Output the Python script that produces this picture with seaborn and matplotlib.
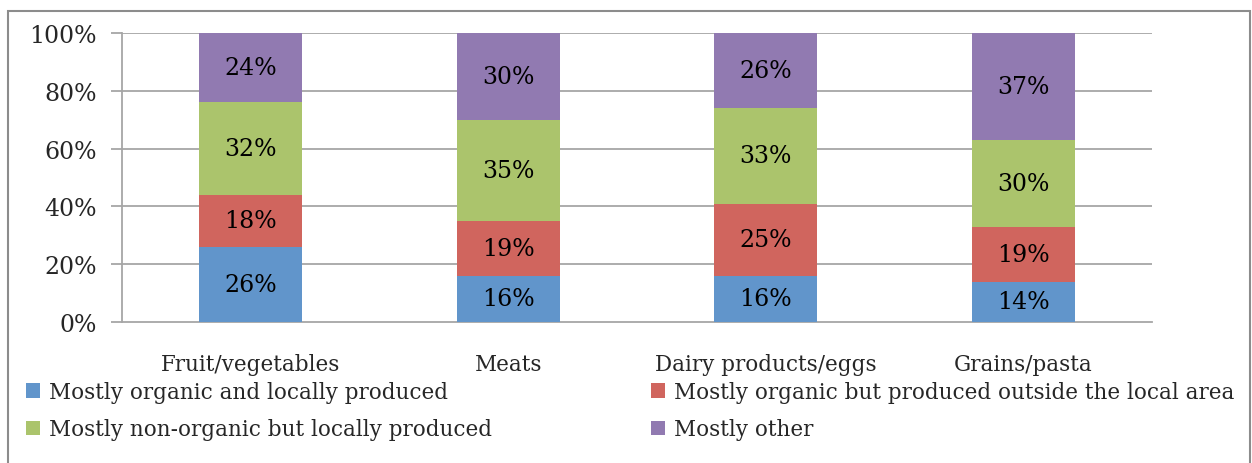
import matplotlib
matplotlib.use("Agg")
import matplotlib.pyplot as plt
from matplotlib.patches import Rectangle
import seaborn as sns
import numpy as np
import pandas as pd

categories = ["Fruit/vegetables", "Meats", "Dairy products/eggs", "Grains/pasta"]
series = [
    "Mostly organic and locally produced",
    "Mostly organic but produced outside the local area",
    "Mostly non-organic but locally produced",
    "Mostly other",
]
organic_local = [26, 16, 16, 14]
organic_outside = [18, 19, 25, 19]
nonorganic_local = [32, 35, 33, 30]
other = [24, 30, 26, 37]
colors = ["#6195CB", "#D0655E", "#ABC46C", "#917AB1"]
yticks = [0, 20, 40, 60, 80, 100]

sns.set_style("white")
plt.rcParams["font.family"] = ["DejaVu Serif"]

values = np.array([organic_local, organic_outside, nonorganic_local, other], dtype=float)
tops = values.cumsum(axis=0)
bottoms = tops - values

fig = plt.figure(figsize=(12.52, 4.64), dpi=100)
ax = fig.add_axes([122 / 1252, 1 - 323 / 464, (1152 - 122) / 1252, (323 - 34) / 464])

# Stacked bars: draw cumulative totals from the top series down
for i in range(len(series) - 1, -1, -1):
    df = pd.DataFrame({"category": categories, "top": tops[i]})
    sns.barplot(data=df, x="category", y="top", color=colors[i], width=0.4,
                saturation=1, ax=ax, zorder=3, linewidth=0, order=categories)

for i in range(len(series)):
    for j in range(len(categories)):
        ax.text(j, bottoms[i, j] + values[i, j] / 2, f"{int(values[i, j])}%",
                ha="center", va="center", fontsize=17, color="black", zorder=4)

grid_c = "#a6a6a6"
ax.set_ylim(0, 100)
ax.set_xlim(-0.5, len(categories) - 0.5)
ax.set_yticks(yticks)
ax.set_yticklabels([f"{t}%" for t in yticks], fontsize=17)
for t in yticks[1:]:
    ax.axhline(t, color=grid_c, lw=1.3, zorder=1)

ax.set_xticks(range(len(categories)))
ax.set_xticklabels(categories, fontsize=15.5)
ax.set_xticks(np.arange(-0.5, len(categories)), minor=True)
ax.tick_params(axis="x", which="major", length=0, pad=22)
ax.tick_params(axis="x", which="minor", length=8, width=1.3, color=grid_c, direction="out")
ax.tick_params(axis="y", length=8, width=1.3, color=grid_c, direction="out", pad=10, left=True)
ax.set_xlabel("")
ax.set_ylabel("")

for side in ["top", "right"]:
    ax.spines[side].set_visible(False)
for side in ["left", "bottom"]:
    ax.spines[side].set_color(grid_c)
    ax.spines[side].set_linewidth(1.3)

# Legend filled row by row across two columns
order = [0, 2, 1, 3]
handles = [Rectangle((0, 0), 1, 1, facecolor=colors[k], edgecolor="none") for k in order]
labels = [series[k] for k in order]
fig.legend(handles, labels, loc="upper left", bbox_to_anchor=(26 / 1252, 1 - 382 / 464),
           ncol=2, frameon=False, fontsize=15.5, handlelength=0.65, handleheight=0.65,
           handletextpad=0.4, columnspacing=7.4, labelspacing=0.72, borderaxespad=0,
           borderpad=0)

# Outer chart border
fig.patches.append(Rectangle((8 / 1252, -0.1), (1250 - 8) / 1252, 1.1 - 12 / 464,
                             transform=fig.transFigure, fill=False,
                             edgecolor="#8c8c8c", lw=1.5))

fig.savefig("out.png", dpi=100)
